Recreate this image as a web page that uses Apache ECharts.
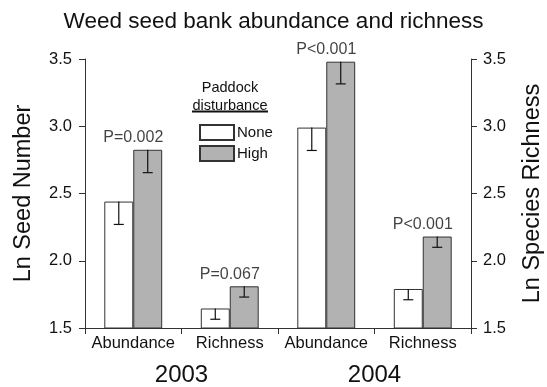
<!DOCTYPE html>
<html><head><meta charset="utf-8">
<script src="https://cdn.jsdelivr.net/npm/echarts@6/dist/echarts.min.js"></script>
<style>html,body{margin:0;padding:0;background:#fff}#c{width:547px;height:387px}</style>
</head><body><div id="c"></div>
<script>
const categories = ['Abundance', 'Richness', 'Abundance', 'Richness'];
const years = ['2003', '2004'];
const noneValues = [2.44, 1.645, 2.99, 1.79];
const noneSE = [0.17, 0.08, 0.17, 0.08];
const highValues = [2.825, 1.81, 3.48, 2.18];
const highSE = [0.17, 0.08, 0.165, 0.08];
const pLabels = ['P=0.002', 'P=0.067', 'P<0.001', 'P<0.001'];

const FONT = 'Liberation Sans, Arial, sans-serif';
const AX = '#333';
const BAR_RATIO = 0.30;

function errorSeries(name, values, se, sign) {
  return {
    type: 'custom', name: name + ' err', silent: true, z: 5,
    renderItem: function (params, api) {
      const i = api.value(0);
      const top = api.coord([i, api.value(1)]);
      const bot = api.coord([i, api.value(1) - api.value(2)]);
      const band = api.size([1, 0])[0];
      const x = top[0] + sign * band * BAR_RATIO / 2;
      const style = { stroke: '#111', lineWidth: 1.2 };
      return { type: 'group', children: [
        { type: 'line', shape: { x1: x, y1: top[1], x2: x, y2: bot[1] }, style: style },
        { type: 'line', shape: { x1: x - 5, y1: bot[1], x2: x + 5, y2: bot[1] }, style: style }
      ]};
    },
    data: values.map((v, i) => [i, v, se[i]])
  };
}

const chart = echarts.init(document.getElementById('c'));
chart.setOption({
  animation: false,
  textStyle: { fontFamily: FONT },
  title: {
    text: 'Weed seed bank abundance and richness', left: 'center', top: 5,
    textStyle: { fontFamily: FONT, fontSize: 22.5, fontWeight: 'normal', color: '#111' }
  },
  legend: {
    data: ['None', 'High'], orient: 'vertical', left: 194, top: 119,
    itemWidth: 34, itemHeight: 15, itemGap: 4, icon: 'rect',
    textStyle: { fontFamily: FONT, fontSize: 15, color: '#111', padding: [0, 0, 0, -2] }
  },
  graphic: [
    { type: 'text', x: 230, y: 88, style: { text: 'Paddock', fontFamily: FONT, fontSize: 14.5, fill: '#111', align: 'center', verticalAlign: 'middle' } },
    { type: 'text', x: 230, y: 105.5, style: { text: 'disturbance', fontFamily: FONT, fontSize: 14.5, fill: '#111', align: 'center', verticalAlign: 'middle' } },
    { type: 'line', shape: { x1: 192, y1: 111.5, x2: 268, y2: 111.5 }, style: { stroke: '#111', lineWidth: 2 } }
  ],
  grid: { left: 85, right: 76, top: 59, bottom: 59, containLabel: false, outerBoundsMode: 'none' },
  xAxis: [{
    type: 'category', data: categories, position: 'bottom',
    axisLine: { lineStyle: { color: AX, width: 1 } },
    axisTick: { show: true, length: 6, alignWithLabel: false, lineStyle: { color: AX } },
    axisLabel: { fontFamily: FONT, fontSize: 16.5, color: '#111', margin: 7, interval: 0 }
  }, {
    type: 'category', data: years, position: 'bottom', offset: 28,
    axisLine: { show: false }, axisTick: { show: false },
    axisLabel: { fontFamily: FONT, fontSize: 24, color: '#111', margin: 7, interval: 0 }
  }],
  yAxis: [{
    type: 'value', min: 1.5, max: 3.5, interval: 0.5, position: 'left',
    name: 'Ln Seed Number', nameLocation: 'middle', nameGap: 49,
    nameTextStyle: { fontFamily: FONT, fontSize: 23.5, color: '#111' },
    axisLine: { show: true, lineStyle: { color: AX } },
    axisTick: { show: true, length: 6, lineStyle: { color: AX } },
    splitLine: { show: false },
    axisLabel: { fontFamily: FONT, fontSize: 16.5, color: '#111', margin: 13, formatter: v => v.toFixed(1) }
  }, {
    type: 'value', min: 1.5, max: 3.5, interval: 0.5, position: 'right',
    name: 'Ln Species Richness', nameLocation: 'middle', nameGap: 50, nameRotate: 90,
    nameTextStyle: { fontFamily: FONT, fontSize: 23.5, color: '#111' },
    axisLine: { show: true, lineStyle: { color: AX } },
    axisTick: { show: true, length: 6, lineStyle: { color: AX } },
    splitLine: { show: false },
    axisLabel: { fontFamily: FONT, fontSize: 16.5, color: '#111', margin: 12, formatter: v => v.toFixed(1) }
  }],
  series: [
    { type: 'bar', name: 'None', data: noneValues, barWidth: (BAR_RATIO * 100) + '%', barGap: '0%',
      itemStyle: { color: '#ffffff', borderColor: '#333', borderWidth: 1 } },
    { type: 'bar', name: 'High', data: highValues, barWidth: (BAR_RATIO * 100) + '%', barGap: '0%',
      itemStyle: { color: '#b2b2b2', borderColor: '#333', borderWidth: 1 } },
    errorSeries('None', noneValues, noneSE, -1),
    errorSeries('High', highValues, highSE, 1),
    { type: 'scatter', name: 'p', symbolSize: 0, silent: true, z: 6,
      data: highValues.map((v, i) => [i, v]),
      label: { show: true, position: 'top', distance: 4, formatter: p => pLabels[p.dataIndex],
        fontFamily: FONT, fontSize: 16, color: '#111' } }
  ]
});
</script></body></html>
